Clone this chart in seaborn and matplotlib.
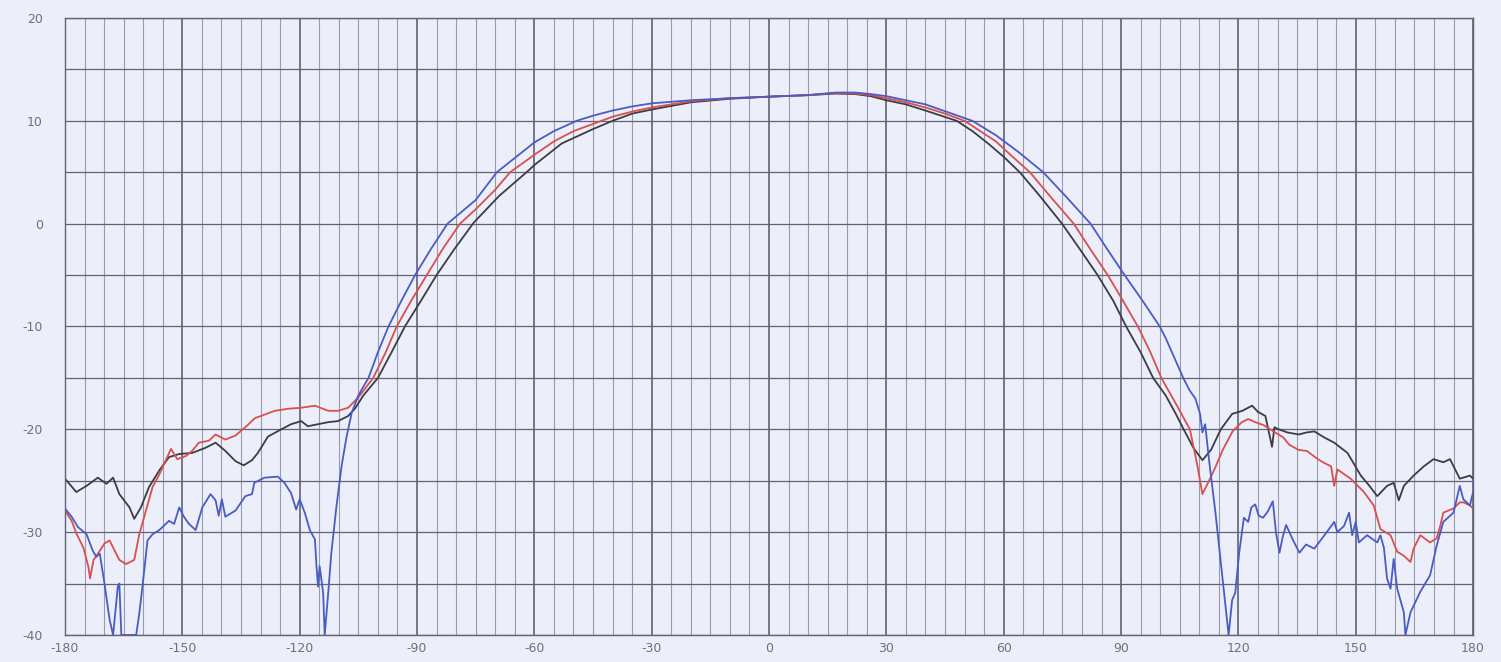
import matplotlib
matplotlib.use("Agg")
import matplotlib.pyplot as plt
import pandas as pd
import seaborn as sns
from matplotlib.ticker import MultipleLocator

# angle (deg) / level (dB)
black_deg = [-180, -177.1, -174.5, -171.6, -169.4, -167.7, -166.1, -163.5, -162.3, -160.6, -158.5, -155.9,
             -153.4, -150.8, -147.5, -144.1, -141.5, -139, -136.4, -134.3, -132.2, -130.7, -128.1, -124.7,
             -122.2, -119.6, -117.9, -115.3, -112.7, -110.2, -107.6, -105.9, -103.7, -100, -96.5, -93.1,
             -89, -85, -80.5, -75.5, -69, -62, -60, -53, -45, -40, -35, -30, -20, -10, 0, 10, 17, 22, 26,
             30, 35, 40, 44, 48, 52, 56, 60, 64.1, 69, 74.9, 79.5, 84, 88, 91.3, 95, 98.2, 101.4, 104, 106,
             108.5, 110.8, 113, 115.5, 118.4, 121, 123.5, 125, 126.9, 128.6, 129.2, 130.3, 132.5, 135.4,
             137.5, 139.4, 142, 144.5, 147.9, 151.3, 153.5, 155.5, 158, 159.7, 161, 162.3, 164.8, 167.4,
             169.9, 172.4, 174.1, 176.6, 179.2, 180]
black_db = [-24.8, -26.1, -25.5, -24.7, -25.3, -24.7, -26.3, -27.6, -28.7, -27.6, -25.6, -24.0,
            -22.7, -22.4, -22.3, -21.8, -21.3, -22.1, -23.1, -23.5, -23.0, -22.3, -20.7, -20.0,
            -19.5, -19.2, -19.7, -19.5, -19.3, -19.2, -18.7, -18.0, -16.7, -15.0, -12.5, -10.0,
            -7.5, -5.0, -2.5, 0.1, 2.7, 5.0, 5.7, 7.8, 9.2, 10.0, 10.7, 11.1, 11.8, 12.15, 12.35, 12.5, 12.65, 12.6, 12.4,
            12.0, 11.6, 11.0, 10.5, 10.0, 9.0, 7.8, 6.5, 5.0, 2.8, 0.0, -2.5, -5.0, -7.5, -10.0, -12.5, -15.0, -16.7, -18.5, -20.0,
            -21.8, -23.0, -22.0, -20.0, -18.5, -18.2, -17.7, -18.3, -18.7, -21.7, -19.8, -20.0, -20.3, -20.5,
            -20.3, -20.2, -20.8, -21.3, -22.3, -24.5, -25.5, -26.5, -25.5, -25.2, -26.9, -25.5, -24.5, -23.6,
            -22.9, -23.2, -22.9, -24.8, -24.5, -24.8]

red_deg = [-180, -178.3, -177, -175.3, -174, -173.6, -172.7, -171.6, -169.9, -168.6, -167.3, -166.1, -164.4,
           -162.3, -161, -159.3, -157.6, -155.9, -152.9, -151.3, -149.1, -147.5, -145.8, -143.2, -141.5, -139,
           -136.4, -133.9, -131.4, -129.9, -126.4, -123, -119.6, -116.1, -112.7, -110.2, -107.6, -105, -101.2,
           -98, -95.2, -91.5, -87.5, -83.5, -79, -75, -70, -66.2, -60, -55, -50, -45, -40, -35, -30, -20, -10,
           0, 10, 17, 22, 26, 30, 35, 40, 45, 50, 54, 58, 62, 66.7, 72, 77.9, 82, 86.6, 90.5, 94.3, 97.5, 100.3,
           104, 107.6, 109.5, 110.8, 112.5, 114.1, 116, 118.5, 120.9, 122.5, 124.3, 126.5, 129.4, 131.5, 133,
           135.4, 137.5, 140.3, 142.1, 143.7, 144.5, 145.3, 148.7, 152.1, 154.6, 156.3, 158.9, 160.6, 162.3,
           164, 164.8, 166.5, 169, 170.7, 171.6, 172.4, 175, 176.6, 177.5, 179.2, 180]
red_db = [-27.9, -28.9, -30.2, -31.5, -33.4, -34.5, -32.7, -32.1, -31.1, -30.8, -31.8, -32.7, -33.1,
          -32.7, -30.2, -27.9, -25.6, -24.4, -21.9, -22.9, -22.6, -22.1, -21.3, -21.1, -20.5, -21.0,
          -20.6, -19.8, -18.9, -18.7, -18.2, -18.0, -17.9, -17.7, -18.2, -18.2, -17.9, -16.9, -15.0,
          -12.5, -10.0, -7.5, -5.0, -2.5, 0.0, 1.4, 3.3, 5.0, 6.7, 8.0, 9.0, 9.7, 10.4, 10.9, 11.3, 11.9, 12.2,
          12.35, 12.5, 12.7, 12.65, 12.5, 12.2, 11.8, 11.3, 10.7, 10.0, 9.0, 8.0, 6.6, 5.0, 2.6, 0.0, -2.4, -5.0, -7.5, -10.0, -12.5, -15.0,
          -17.5, -20.0, -23.5, -26.3, -25.0, -23.7, -22.0, -20.2, -19.3, -19.0, -19.3, -19.6, -20.3, -20.8, -21.5,
          -22.0, -22.1, -22.9, -23.3, -23.6, -25.5, -23.9, -24.8, -26.1, -27.4, -29.7, -30.3, -31.9, -32.3,
          -32.9, -31.6, -30.3, -31.0, -30.6, -29.4, -28.1, -27.7, -27.1, -27.1, -27.4, -27.7]

blue_deg = [-180, -178.3, -176.7, -174.5, -172.9, -172, -171.1, -169.9, -168.6, -167.7, -166.5, -166.1, -165.6,
            -161.8, -161, -160.2, -158.9, -157.6, -155.9, -153.4, -152.1, -150.8, -149.6, -148.3, -146.6, -144.9,
            -142.8, -141.5, -140.7, -139.9, -139, -136.4, -133.9, -132.2, -131.6, -129, -125.6, -123.9, -122.2,
            -120.9, -120, -118.7, -117.4, -116.1, -115.7, -115.3, -114.9, -114, -113.6, -112.7, -111.9, -110.6,
            -109.3, -108, -106.7, -105, -102.4, -100, -97.3, -94, -90.5, -86.5, -82.2, -75, -69.6, -60, -55,
            -49.2, -45, -40, -35, -30, -20, -10, 0, 10, 17, 22, 26, 30, 35, 40, 46, 52, 58, 64, 70.1, 76, 82.2,
            86.5, 90.9, 95.5, 99.9, 101.5, 103, 105.9, 107.5, 109, 110.2, 110.8, 111.5, 112.5, 114.1, 115.8,
            117.5, 118.4, 119.2, 120.2, 121.4, 122.5, 123.3, 124.3, 125.2, 126.3, 127.5, 128.8, 129.6, 130.5,
            131.3, 132.2, 134, 135.6, 137.3, 139.4, 141, 142, 144.5, 145.3, 147, 148.3, 149.1, 150, 150.8, 152.9,
            155.5, 156.3, 157.2, 158, 158.9, 159.7, 160.6, 162.3, 162.7, 164, 166.5, 169, 170.7, 172.4, 175,
            176.6, 177.5, 179.2, 180]
blue_db = [-27.7, -28.5, -29.5, -30.2, -31.8, -32.4, -32.1, -35.0, -38.5, -40.0, -35.3, -35.0, -40.0,
           -40.0, -37.9, -35.3, -30.8, -30.2, -29.8, -28.9, -29.2, -27.6, -28.5, -29.2, -29.8, -27.6,
           -26.3, -26.9, -28.4, -26.8, -28.5, -27.9, -26.5, -26.3, -25.2, -24.7, -24.6, -25.2, -26.2,
           -27.8, -26.8, -28.1, -29.8, -30.7, -33.3, -35.3, -33.3, -35.9, -40.0, -35.9, -32.0, -27.5,
           -23.6, -20.7, -18.4, -16.7, -15.0, -12.5, -10.0, -7.5, -5.0, -2.5, 0.0, 2.3, 5.0, 7.9, 9.0,
           10.0, 10.5, 11.0, 11.4, 11.7, 12.0, 12.2, 12.35, 12.5, 12.75, 12.75, 12.6, 12.4, 12.0, 11.6, 10.8, 10.0, 8.6, 6.9, 5.0, 2.6, 0.0,
           -2.5, -5.0, -7.5, -10.0, -11.2, -12.5, -15.0, -16.2, -17.0, -18.5, -20.3, -19.5, -23.0, -28.0, -34.0,
           -40.0, -36.6, -35.9, -32.0, -28.6, -29.0, -27.6, -27.3, -28.4, -28.6, -28.0, -27.0, -30.0, -32.0,
           -30.5, -29.3, -30.8, -32.0, -31.2, -31.6, -30.8, -30.3, -29.0, -30.0, -29.4, -28.1, -30.3, -29.0, -31.0, -30.3,
           -31.0, -30.3, -31.5, -34.5, -35.5, -32.6, -35.5, -37.8, -40.0, -37.8, -35.8, -34.2, -31.3, -29.0, -28.1,
           -25.5, -26.8, -27.4, -26.1]

bg = "#eceefa"
sns.set_style("white")
plt.rcParams["font.family"] = ["DejaVu Sans"]
plt.rcParams["axes.unicode_minus"] = False

fig = plt.figure(figsize=(15.01, 6.62), dpi=100, facecolor=bg)
ax = fig.add_axes([0.0433, 0.0408, 0.9381, 0.932])
ax.set_facecolor(bg)

series = [(black_deg, black_db, "#3c3c44"), (red_deg, red_db, "#d8504f"), (blue_deg, blue_db, "#4a5cc4")]
for deg, db, col in series:
    df = pd.DataFrame({"angle": deg, "level": db})
    sns.lineplot(data=df, x="angle", y="level", color=col, linewidth=1.3,
                 estimator=None, sort=False, ax=ax)

ax.set_xlim(-180, 180)
ax.set_ylim(-40, 20)
ax.xaxis.set_major_locator(MultipleLocator(30))
ax.xaxis.set_minor_locator(MultipleLocator(5))
ax.yaxis.set_major_locator(MultipleLocator(10))
ax.yaxis.set_minor_locator(MultipleLocator(5))
ax.grid(which="major", axis="x", color="#55556a", linewidth=1.1)
ax.grid(which="minor", axis="x", color="#9a9aae", linewidth=0.8)
ax.grid(which="both", axis="y", color="#626274", linewidth=0.9)
ax.set_axisbelow(True)
ax.tick_params(which="both", length=0)
ax.tick_params(axis="y", pad=16, labelsize=9, labelcolor="#707078")
ax.tick_params(axis="x", pad=5, labelsize=9, labelcolor="#707078")
for s in ax.spines.values():
    s.set_color("#626274")
    s.set_linewidth(1.0)
ax.set_xlabel("")
ax.set_ylabel("")

plt.savefig("out.png", dpi=100, facecolor=bg)
